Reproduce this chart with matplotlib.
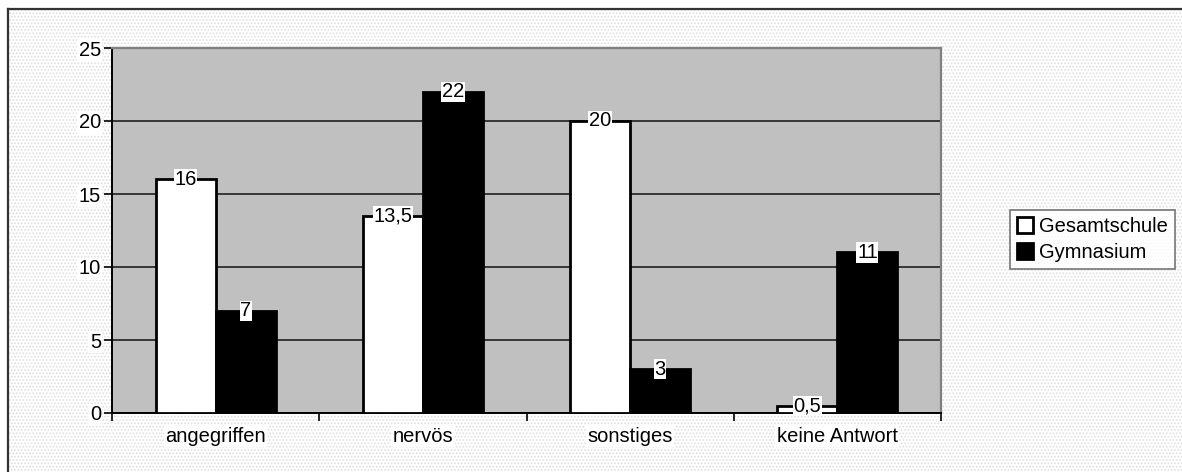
import matplotlib.pyplot as plt
import numpy as np
from matplotlib.patches import Rectangle

kategorien = ["angegriffen", "nervös", "sonstiges", "keine Antwort"]
gesamtschule = [16, 13.5, 20, 0.5]
gymnasium = [7, 22, 3, 11]
werte_text_ges = ["16", "13,5", "20", "0,5"]
werte_text_gym = ["7", "22", "3", "11"]

plt.rcParams['font.family'] = ['Liberation Sans', 'DejaVu Sans']
plt.rcParams['hatch.linewidth'] = 0.8

fig = plt.figure(figsize=(11.82, 4.72), dpi=100)
fig.patch.set_facecolor('white')

# gepunkteter Hintergrund + Rahmen
bg = Rectangle((8/1182, -0.1), 1.1, 1 - 9/472 + 0.1, transform=fig.transFigure,
               facecolor='white', edgecolor='#dedede', hatch='.....', linewidth=0, zorder=-10)
fig.patches.append(bg)
fig.add_artist(plt.Line2D([8/1182, 8/1182], [0, 1 - 9/472], transform=fig.transFigure,
                          color='#333333', linewidth=1.6))
fig.add_artist(plt.Line2D([8/1182, 1], [1 - 9/472, 1 - 9/472], transform=fig.transFigure,
                          color='#333333', linewidth=1.6))

ax = fig.add_axes([112/1182, 59/472, 829/1182, 365/472])
ax.set_facecolor('#c0c0c0')

x = np.arange(len(kategorien))
w = 0.29
b1 = ax.bar(x - w/2, gesamtschule, w, color='white', edgecolor='black', linewidth=2,
            label='Gesamtschule', zorder=3)
b2 = ax.bar(x + w/2, gymnasium, w, color='black', edgecolor='black', linewidth=2,
            label='Gymnasium', zorder=3)

for xi, v, t in zip(x - w/2, gesamtschule, werte_text_ges):
    ax.text(xi, v, t, ha='center', va='center', fontsize=14.5, zorder=5,
            bbox=dict(facecolor='white', edgecolor='none', pad=0.5))
for xi, v, t in zip(x + w/2, gymnasium, werte_text_gym):
    ax.text(xi, v, t, ha='center', va='center', fontsize=14.5, zorder=5,
            bbox=dict(facecolor='white', edgecolor='none', pad=0.5))

ax.set_xlim(-0.5, 3.5)
ax.set_ylim(0, 25)
ax.set_yticks([0, 5, 10, 15, 20, 25])
ax.set_yticklabels(['0', '5', '10', '15', '20', '25'], fontsize=14.5)
ax.yaxis.grid(True, color='#202020', linewidth=1.2, zorder=1)
ax.set_axisbelow(True)

ax.set_xticks(np.arange(-0.5, 4, 1))
ax.set_xticklabels([])
ax.set_xticks(x, minor=True)
ax.set_xticklabels(kategorien, minor=True, fontsize=14.5)
ax.tick_params(axis='x', which='minor', length=0, pad=10)
ax.tick_params(axis='x', which='major', length=6, width=1.2, direction='out')
ax.tick_params(axis='y', length=6, width=1.2, direction='out', pad=2)
for lbl in ax.get_xticklabels(minor=True) + ax.get_yticklabels():
    lbl.set_bbox(dict(facecolor='white', edgecolor='none', pad=1))

for s in ['left', 'bottom']:
    ax.spines[s].set_color('black')
    ax.spines[s].set_linewidth(1.4)
for s in ['top', 'right']:
    ax.spines[s].set_color('#808080')
    ax.spines[s].set_linewidth(1.6)

leg = fig.legend(handles=[b1, b2], loc='upper left', bbox_to_anchor=(1010/1182, 1 - 210/472),
                 fontsize=14.5, frameon=True, fancybox=False, edgecolor='#555555',
                 handlelength=0.8, handleheight=0.8, handletextpad=0.3, labelspacing=0.35,
                 borderpad=0.35, borderaxespad=0)
leg.get_frame().set_linewidth(1.2)

fig.savefig('out.png', dpi=100)
